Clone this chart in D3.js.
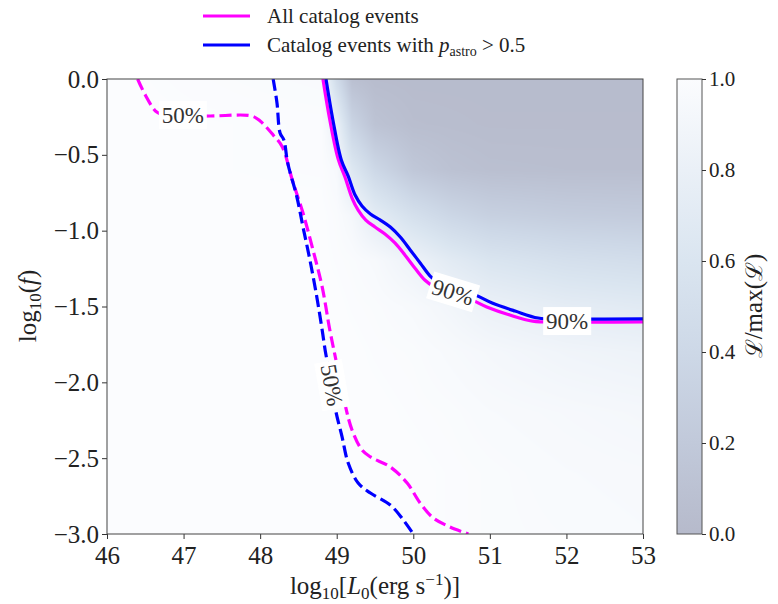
<!DOCTYPE html>
<html>
<head>
<meta charset="utf-8">
<script src="https://cdn.jsdelivr.net/npm/d3@7"></script>
<style>
  body { margin: 0; background: #fff; }
  svg text { font-family: "Liberation Serif", "DejaVu Serif", serif; fill: #222; }
</style>
</head>
<body>
<div id="chart"></div>
<script>
// tick labels
const xTicks = [46, 47, 48, 49, 50, 51, 52, 53]
const yTicks = [0, -0.5, -1, -1.5, -2, -2.5, -3]
const cbTicks = [0, 0.2, 0.4, 0.6, 0.8, 1]

// likelihood surface L/max(L)
const fieldL = [46, 48.8, 49.0, 49.2, 49.5, 50, 50.5, 51, 52, 53]
const fieldF = [0, -0.3, -0.6, -0.9, -1.2, -1.5, -1.8, -2.2, -2.6, -3]
const fieldRows = [
  [1.00, 0.97, 0.45, 0.08, 0.03, 0.02, 0.02, 0.02, 0.02, 0.02],
  [1.00, 0.99, 0.80, 0.35, 0.12, 0.05, 0.04, 0.03, 0.03, 0.03],
  [1.00, 0.99, 0.95, 0.65, 0.40, 0.18, 0.10, 0.07, 0.06, 0.06],
  [1.00, 1.00, 0.98, 0.92, 0.72, 0.52, 0.38, 0.30, 0.25, 0.23],
  [1.00, 1.00, 0.99, 0.98, 0.95, 0.84, 0.70, 0.60, 0.52, 0.48],
  [1.00, 1.00, 1.00, 0.99, 0.98, 0.95, 0.89, 0.81, 0.73, 0.69],
  [1.00, 1.00, 1.00, 1.00, 0.99, 0.98, 0.95, 0.92, 0.87, 0.84],
  [1.00, 1.00, 1.00, 1.00, 1.00, 0.99, 0.98, 0.96, 0.94, 0.92],
  [1.00, 1.00, 1.00, 1.00, 1.00, 1.00, 0.99, 0.98, 0.96, 0.95],
  [1.00, 1.00, 1.00, 1.00, 1.00, 1.00, 0.99, 0.98, 0.97, 0.96]
]

// 90% contours (solid)
const allSolidL = [48.82, 48.91, 49.02, 49.11, 49.20, 49.28, 49.38, 49.50, 49.63, 49.76, 49.89, 50.02, 50.15, 50.26, 50.48, 50.74, 50.96, 51.26, 51.56, 51.92, 53]
const allSolidF = [0, -0.27, -0.53, -0.65, -0.785, -0.864, -0.93, -0.976, -1.022, -1.081, -1.16, -1.246, -1.325, -1.365, -1.411, -1.451, -1.503, -1.556, -1.596, -1.602, -1.602]
const astroSolidL = [48.86, 48.95, 49.06, 49.15, 49.24, 49.33, 49.44, 49.57, 49.70, 49.83, 49.96, 50.09, 50.22, 50.32, 50.55, 50.81, 51.03, 51.33, 51.63, 51.98, 53]
const astroSolidF = [0, -0.27, -0.534, -0.64, -0.765, -0.837, -0.89, -0.93, -0.976, -1.042, -1.127, -1.213, -1.299, -1.338, -1.385, -1.424, -1.477, -1.53, -1.576, -1.582, -1.582]

// 50% contours (dashed)
const allDashL = [46.40, 46.50, 46.65, 46.80, 47.35, 47.89, 48.00, 48.17, 48.29, 48.42, 48.56, 48.69, 48.81, 48.91, 48.99, 49.11, 49.20, 49.33, 49.44, 49.70, 49.92, 50.09, 50.26, 50.48, 50.72]
const allDashF = [0, -0.105, -0.218, -0.244, -0.244, -0.244, -0.277, -0.369, -0.448, -0.666, -0.884, -1.127, -1.371, -1.655, -1.853, -2.149, -2.314, -2.446, -2.492, -2.558, -2.664, -2.796, -2.894, -2.954, -3]
const astroDashL = [48.17, 48.22, 48.26, 48.31, 48.36, 48.48, 48.56, 48.65, 48.74, 48.81, 48.86, 48.93, 48.98, 49.07, 49.15, 49.28, 49.44, 49.70, 49.87, 50.00]
const astroDashF = [0, -0.158, -0.356, -0.402, -0.554, -0.778, -0.976, -1.193, -1.437, -1.655, -1.82, -1.985, -2.169, -2.36, -2.532, -2.664, -2.73, -2.809, -2.908, -3]

// inline contour labels
const labelText = ['50%', '50%', '90%', '90%']
const labelL = [46.99, 48.94, 50.52, 52.01]
const labelF = [-0.237, -2.018, -1.404, -1.596]
const labelAngle = [0, 80, 17, 0]

const serif = '"Liberation Serif", "DejaVu Serif", serif'
const W = 778, H = 604
const svg = d3.select('#chart').append('svg')
  .attr('width', W).attr('height', H)
  .attr('xmlns', 'http://www.w3.org/2000/svg')

const x = d3.scaleLinear().domain([46, 53]).range([107, 643])
const y = d3.scaleLinear().domain([-3, 0]).range([534, 79])

const cmap = d3.scaleLinear()
  .domain([0, 0.2, 0.4, 0.6, 0.8, 1])
  .range(['#b6bacb', '#c1c9da', '#cdd8e7', '#dae5f0', '#eaf0f7', '#fbfcfe'])
  .clamp(true)

// draw the surface into a canvas, then into the svg as an image
const pw = 536, ph = 455
const canvas = document.createElement('canvas')
canvas.width = pw; canvas.height = ph
const ctx = canvas.getContext('2d')
const img = ctx.createImageData(pw, ph)
const ix = d3.scaleLinear().domain(fieldL).range(d3.range(fieldL.length)).clamp(true)
const iy = d3.scaleLinear().domain(fieldF).range(d3.range(fieldF.length)).clamp(true)
for (let j = 0; j < ph; j++) {
  const fy = iy(y.invert(79 + j + 0.5))
  const j0 = Math.min(Math.floor(fy), fieldF.length - 2), ty = fy - j0
  for (let i = 0; i < pw; i++) {
    const fx = ix(x.invert(107 + i + 0.5))
    const i0 = Math.min(Math.floor(fx), fieldL.length - 2), tx = fx - i0
    const a = fieldRows[j0][i0], b = fieldRows[j0][i0 + 1]
    const c = fieldRows[j0 + 1][i0], d = fieldRows[j0 + 1][i0 + 1]
    const v = (a * (1 - tx) + b * tx) * (1 - ty) + (c * (1 - tx) + d * tx) * ty
    const col = d3.rgb(cmap(v))
    const k = (j * pw + i) * 4
    img.data[k] = col.r; img.data[k + 1] = col.g; img.data[k + 2] = col.b; img.data[k + 3] = 255
  }
}
ctx.putImageData(img, 0, 0)
svg.append('image')
  .attr('x', 107).attr('y', 79).attr('width', pw).attr('height', ph)
  .attr('preserveAspectRatio', 'none')
  .attr('href', canvas.toDataURL())

svg.append('clipPath').attr('id', 'plotclip')
  .append('rect').attr('x', 107).attr('y', 79).attr('width', pw).attr('height', ph)

const plot = svg.append('g').attr('clip-path', 'url(#plotclip)')
const line = d3.line().x(d => x(d[0])).y(d => y(d[1])).curve(d3.curveCatmullRom.alpha(0.5))

const contours = [
  { L: allDashL, F: allDashF, color: '#ff00ff', dash: '12,5' },
  { L: astroDashL, F: astroDashF, color: '#0000ff', dash: '12,5' },
  { L: allSolidL, F: allSolidF, color: '#ff00ff', dash: null },
  { L: astroSolidL, F: astroSolidF, color: '#0000ff', dash: null }
]
contours.forEach(c => {
  plot.append('path')
    .datum(d3.zip(c.L, c.F))
    .attr('d', line)
    .attr('fill', 'none')
    .attr('stroke', c.color)
    .attr('stroke-width', 3.2)
    .attr('stroke-dasharray', c.dash)
})

// contour labels with white boxes
labelText.forEach((t, i) => {
  const g = plot.append('g')
    .attr('transform', `translate(${x(labelL[i])},${y(labelF[i])}) rotate(${labelAngle[i]})`)
  g.append('rect').attr('x', -24).attr('y', -14).attr('width', 48).attr('height', 28).attr('fill', '#fff')
  g.append('text').text(t)
    .attr('text-anchor', 'middle').attr('dy', '0.35em')
    .style('font-family', serif).style('font-size', '23px').style('fill', '#333')
})

// axes
const xAxis = svg.append('g').attr('transform', 'translate(0,534)')
  .call(d3.axisBottom(x).tickValues(xTicks).tickSize(5).tickPadding(4).tickFormat(d3.format('d')))
const yAxis = svg.append('g').attr('transform', 'translate(107,0)')
  .call(d3.axisLeft(y).tickValues(yTicks).tickSize(5).tickPadding(3).tickFormat(d => d3.format('.1f')(d).replace('-', '−')))
;[xAxis, yAxis].forEach(a => {
  a.attr('font-family', null).attr('font-size', null)
  a.select('.domain').remove()
  a.selectAll('line').attr('stroke', '#333')
  a.selectAll('text').style('font-family', serif).style('font-size', '25px').attr('fill', '#222')
})
xAxis.selectAll('text').attr('dy', '0.85em')
svg.append('rect').attr('x', 107).attr('y', 79).attr('width', pw).attr('height', ph)
  .attr('fill', 'none').attr('stroke', '#444').attr('stroke-width', 1)

// axis labels
const xl = svg.append('text').attr('x', 375).attr('y', 594).attr('text-anchor', 'middle').style('font-size', '25px')
xl.append('tspan').text('log')
xl.append('tspan').text('10').style('font-size', '17px').attr('dy', 5)
xl.append('tspan').text('[').attr('dy', -5)
xl.append('tspan').text('L').style('font-style', 'italic')
xl.append('tspan').text('0').style('font-size', '17px').attr('dy', 5)
xl.append('tspan').text('(erg s').attr('dy', -5)
xl.append('tspan').text('−1').style('font-size', '17px').attr('dy', -9)
xl.append('tspan').text(')]').attr('dy', 9)

const yl = svg.append('text').attr('transform', 'translate(36,306) rotate(-90)').attr('text-anchor', 'middle').style('font-size', '25px')
yl.append('tspan').text('log')
yl.append('tspan').text('10').style('font-size', '17px').attr('dy', 5)
yl.append('tspan').text('(').attr('dy', -5)
yl.append('tspan').text('f').style('font-style', 'italic')
yl.append('tspan').text(')')

// colorbar
const cbX = 677, cbW = 25
const cy = d3.scaleLinear().domain([0, 1]).range([534, 79])
const grad = svg.append('defs').append('linearGradient').attr('id', 'cbgrad')
  .attr('x1', 0).attr('y1', 1).attr('x2', 0).attr('y2', 0)
cmap.domain().forEach(v => grad.append('stop').attr('offset', v).attr('stop-color', cmap(v)))
svg.append('rect').attr('x', cbX).attr('y', 79).attr('width', cbW).attr('height', ph)
  .attr('fill', 'url(#cbgrad)').attr('stroke', '#555').attr('stroke-width', 1)
const cbAxis = svg.append('g').attr('transform', `translate(${cbX + cbW},0)`)
  .call(d3.axisRight(cy).tickValues(cbTicks).tickSize(4).tickPadding(3).tickFormat(d3.format('.1f')))
cbAxis.attr('font-family', null).attr('font-size', null)
cbAxis.select('.domain').remove()
cbAxis.selectAll('line').attr('stroke', '#333')
cbAxis.selectAll('text').style('font-family', serif).style('font-size', '21px').attr('fill', '#222')

const cl = svg.append('text').attr('transform', 'translate(762,306) rotate(-90)').attr('text-anchor', 'middle').style('font-size', '25px')
cl.append('tspan').text('ℒ').style('font-family', '"DejaVu Serif", serif').style('font-size', '23px')
cl.append('tspan').text('/max(')
cl.append('tspan').text('ℒ').style('font-family', '"DejaVu Serif", serif').style('font-size', '23px')
cl.append('tspan').text(')')

// legend
const legend = svg.append('g')
const legItems = [
  { color: '#ff00ff', y: 16 },
  { color: '#0000ff', y: 45 }
]
legItems.forEach(d => {
  legend.append('line').attr('x1', 203).attr('x2', 250).attr('y1', d.y).attr('y2', d.y)
    .attr('stroke', d.color).attr('stroke-width', 3)
})
legend.append('text').attr('x', 267).attr('y', 23).style('font-size', '21px').text('All catalog events')
const l2 = legend.append('text').attr('x', 267).attr('y', 52).style('font-size', '21px')
l2.append('tspan').text('Catalog events with ')
l2.append('tspan').text('p').style('font-style', 'italic')
l2.append('tspan').text('astro').style('font-size', '14px').attr('dy', 4)
l2.append('tspan').text(' > 0.5').attr('dy', -4)
</script>
</body>
</html>
